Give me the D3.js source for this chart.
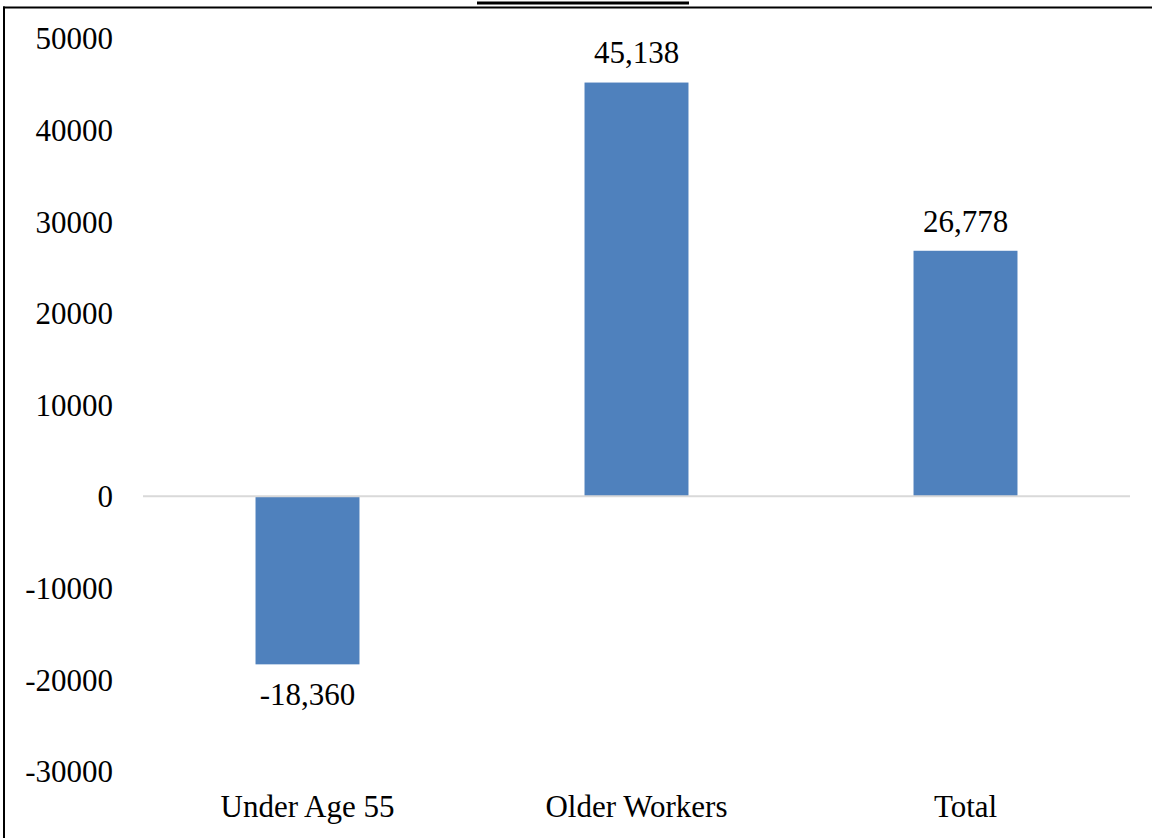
<!DOCTYPE html>
<html>
<head>
<meta charset="utf-8">
<script src="https://cdn.jsdelivr.net/npm/d3@7"></script>
<style>
  html, body { margin: 0; padding: 0; background: #fff; }
  svg { display: block; }
  text { font-family: "Liberation Serif", "Times New Roman", serif; fill: #000; }
</style>
</head>
<body>
<script>
const categories = ["Under Age 55", "Older Workers", "Total"];
const values = [-18360, 45138, 26778];
const valueLabels = ["-18,360", "45,138", "26,778"];
const yTicks = [50000, 40000, 30000, 20000, 10000, 0, -10000, -20000, -30000];

const W = 1152, H = 838;
const svg = d3.select("body").append("svg").attr("width", W).attr("height", H);

// frame lines
svg.append("line").attr("x1", 3).attr("x2", W).attr("y1", 7.5).attr("y2", 7.5)
  .attr("stroke", "#000").attr("stroke-width", 2);
svg.append("line").attr("x1", 4).attr("x2", 4).attr("y1", 6.5).attr("y2", H)
  .attr("stroke", "#000").attr("stroke-width", 2);
svg.append("line").attr("x1", 477).attr("x2", 689).attr("y1", 3).attr("y2", 3)
  .attr("stroke", "#000").attr("stroke-width", 3);

const y = d3.scaleLinear().domain([-30000, 50000]).range([771, 38]);
const p = 0.684;
const x = d3.scaleBand().domain(categories).range([143, 1130])
  .paddingInner(p).paddingOuter(p / 2);

// y tick labels
const yAxis = d3.axisLeft(y).tickValues(yTicks).tickSize(0).tickPadding(0)
  .tickFormat(d => String(d));
const gy = svg.append("g").attr("transform", "translate(113,0)").call(yAxis);
gy.select(".domain").remove();
gy.selectAll("text").style("font-family", "'Liberation Serif', serif")
  .style("font-size", "31px").attr("fill", "#000").attr("dy", "0.35em");

// bars
svg.selectAll("rect.bar").data(values).enter().append("rect")
  .attr("class", "bar")
  .attr("x", (d, i) => x(categories[i]))
  .attr("width", x.bandwidth())
  .attr("y", d => Math.min(y(d), y(0)))
  .attr("height", d => Math.abs(y(d) - y(0)))
  .attr("fill", "#4F81BD");

// zero line
svg.append("line").attr("x1", 143).attr("x2", 1130).attr("y1", y(0)).attr("y2", y(0))
  .attr("stroke", "#D9D9D9").attr("stroke-width", 2);

// value labels
svg.selectAll("text.val").data(values).enter().append("text")
  .attr("class", "val")
  .attr("x", (d, i) => x(categories[i]) + x.bandwidth() / 2)
  .attr("y", d => d >= 0 ? y(d) - 30 : y(d) + 30)
  .attr("dy", "0.35em")
  .attr("text-anchor", "middle")
  .style("font-size", "31px")
  .text((d, i) => valueLabels[i]);

// category labels
const xAxis = d3.axisBottom(x).tickSize(0).tickPadding(0);
const gx = svg.append("g").attr("transform", "translate(0,806)").call(xAxis);
gx.select(".domain").remove();
gx.selectAll("text").style("font-family", "'Liberation Serif', serif")
  .style("font-size", "31px").attr("fill", "#000").attr("dy", "0.35em");
</script>
</body>
</html>
